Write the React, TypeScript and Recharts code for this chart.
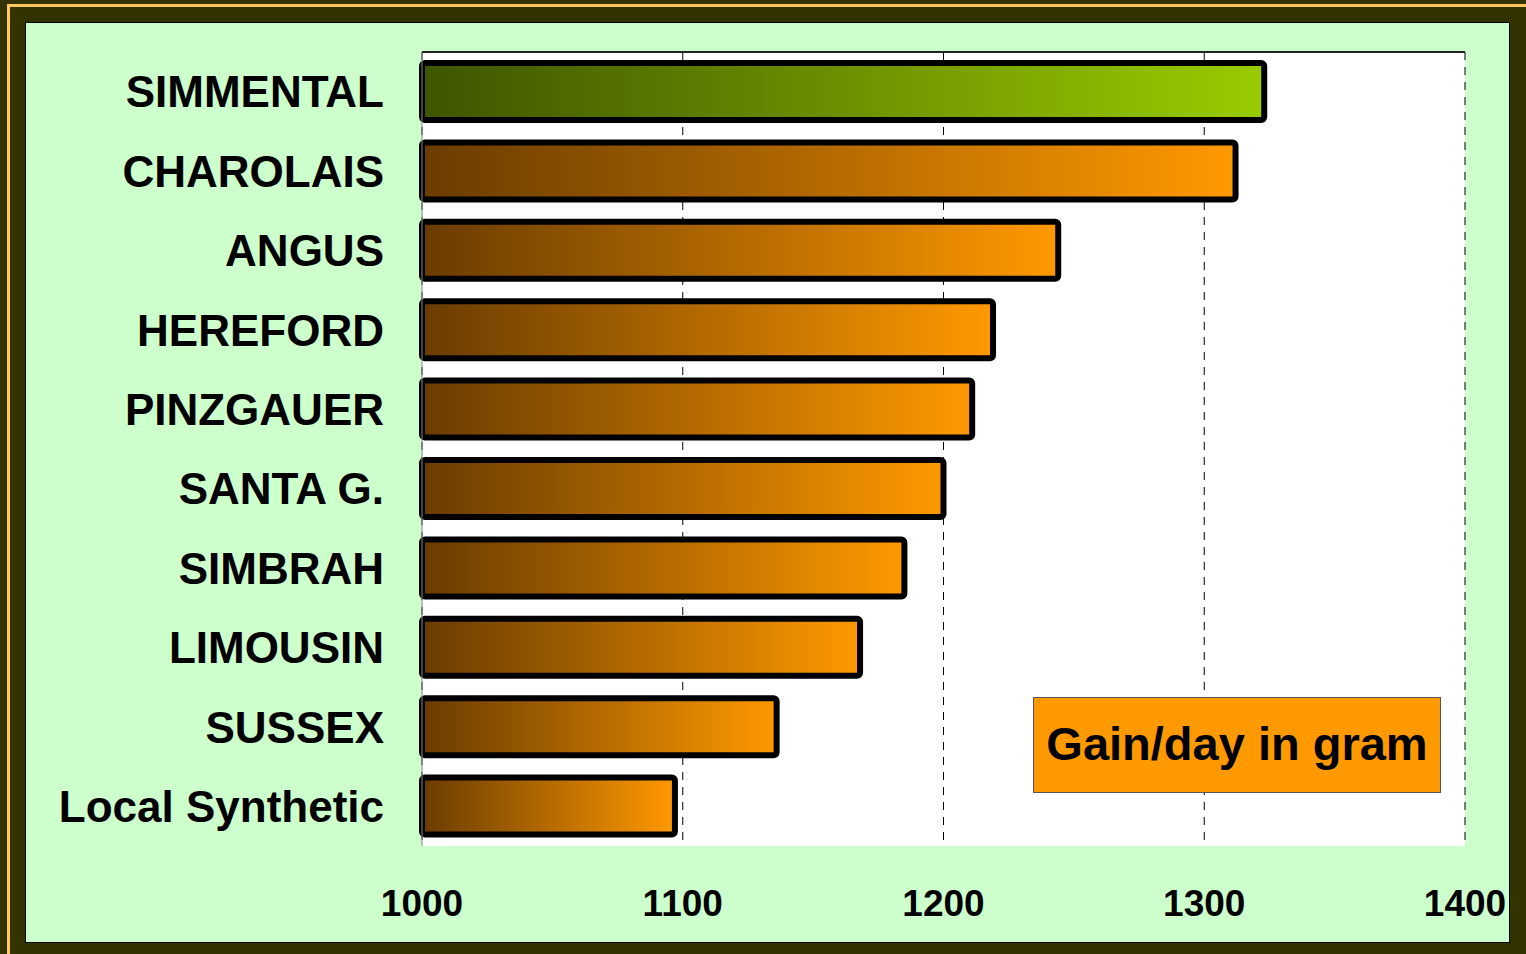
import React from "react";
import { BarChart, Bar, XAxis, YAxis, CartesianGrid, Cell } from "recharts";

const breeds = [
  "SIMMENTAL",
  "CHAROLAIS",
  "ANGUS",
  "HEREFORD",
  "PINZGAUER",
  "SANTA G.",
  "SIMBRAH",
  "LIMOUSIN",
  "SUSSEX",
  "Local Synthetic",
];
const gainPerDay = [1323, 1312, 1244, 1219, 1211, 1200, 1185, 1168, 1136, 1097];
const xTicks = [1000, 1100, 1200, 1300, 1400];
const highlighted = "SIMMENTAL";
const seriesLabel = "Gain/day in gram";

const data = breeds.map((breed, i) => ({ breed, gain: gainPerDay[i] }));

const font = "'Liberation Sans', Arial, sans-serif";

function XTick(props: any) {
  const { x, y, payload } = props;
  return (
    <text
      x={x}
      y={y + 55}
      textAnchor="middle"
      dominantBaseline="central"
      fontFamily={font}
      fontWeight="bold"
      fontSize={37}
      fill="#000"
    >
      {payload.value}
    </text>
  );
}

export default function App() {
  return (
    <div
      style={{
        position: "absolute",
        left: 0,
        top: 0,
        width: 1526,
        height: 954,
        background: "#333300",
        overflow: "hidden",
        fontFamily: font,
      }}
    >
      <div
        style={{
          position: "absolute",
          left: 7,
          top: 4,
          width: 1700,
          height: 1100,
          border: "3px solid #FFC65C",
        }}
      />
      <div
        style={{
          position: "absolute",
          left: 25,
          top: 22,
          width: 1483,
          height: 919,
          border: "1px solid #000",
          background: "#CCFFCC",
        }}
      >
        <BarChart
          width={1483}
          height={919}
          data={data}
          layout="vertical"
          margin={{ top: 27, right: 44, bottom: 0, left: 0 }}
          barSize={57}
        >
          <defs>
            <linearGradient id="gOrange" x1="0" y1="0" x2="1" y2="0">
              <stop offset="0%" stopColor="#6A3C00" />
              <stop offset="100%" stopColor="#FF9900" />
            </linearGradient>
            <linearGradient id="gGreen" x1="0" y1="0" x2="1" y2="0">
              <stop offset="0%" stopColor="#3E5500" />
              <stop offset="100%" stopColor="#99CC00" />
            </linearGradient>
          </defs>
          <CartesianGrid
            xAxisId="bottom"
            horizontal={false}
            stroke="#000"
            strokeDasharray="8 7"
            fill="#FFFFFF"
            fillOpacity={1}
          />
          <XAxis
            xAxisId="bottom"
            type="number"
            domain={[1000, 1400]}
            ticks={xTicks}
            axisLine={false}
            tickLine={false}
            tickSize={0}
            height={96}
            tick={<XTick />}
            interval={0}
          />
          <XAxis
            xAxisId="top"
            orientation="top"
            type="number"
            domain={[1000, 1400]}
            height={2}
            tick={false}
            tickLine={false}
            axisLine={{ stroke: "#222", strokeWidth: 2 }}
          />
          <YAxis
            type="category"
            dataKey="breed"
            width={396}
            axisLine={{ stroke: "#888" }}
            tickLine={false}
            tickSize={0}
            tickMargin={38}
            interval={0}
            tick={{ fill: "#000", fontSize: 44, fontWeight: "bold", fontFamily: font }}
          />
          <Bar
            xAxisId="bottom"
            dataKey="gain"
            stroke="#000"
            strokeWidth={6}
            radius={3}
            isAnimationActive={false}
          >
            {data.map((d, idx) => (
              <Cell
                key={`cell-${idx}`}
                fill={d.breed === highlighted ? "url(#gGreen)" : "url(#gOrange)"}
              />
            ))}
          </Bar>
        </BarChart>
      </div>
      <div
        style={{
          position: "absolute",
          left: 1033,
          top: 697,
          width: 408,
          height: 96,
          boxSizing: "border-box",
          border: "1px solid #555",
          background: "#FF9900",
          display: "flex",
          alignItems: "center",
          justifyContent: "center",
          fontWeight: "bold",
          fontSize: 47,
          color: "#000",
          whiteSpace: "nowrap",
          paddingBottom: 4,
        }}
      >
        {seriesLabel}
      </div>
    </div>
  );
}
